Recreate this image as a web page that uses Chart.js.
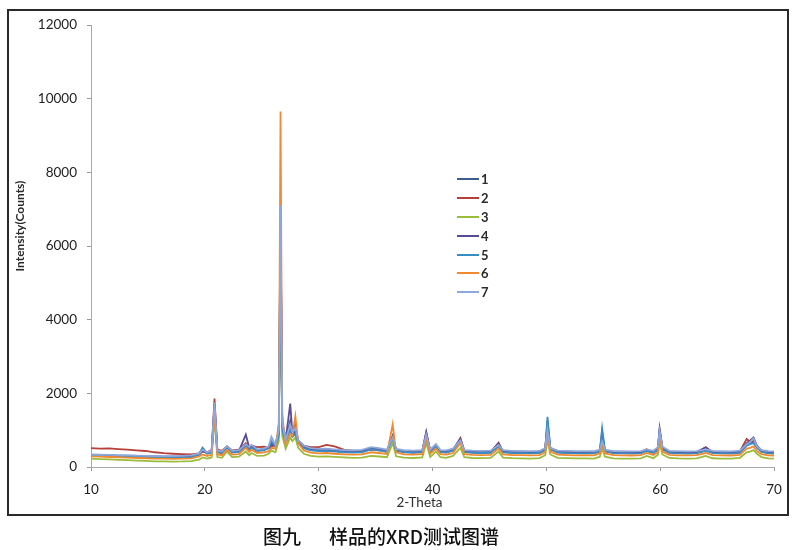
<!DOCTYPE html>
<html>
<head>
<meta charset="utf-8">
<script src="https://cdn.jsdelivr.net/npm/chart.js@4.4.1/dist/chart.umd.min.js"></script>
<style>
html,body{margin:0;padding:0;background:#fff;}
#wrap{position:relative;width:800px;height:550px;overflow:hidden;background:#fff;}
#frame{position:absolute;left:7px;top:9px;width:782px;height:507px;border:2px solid #2a2a2a;box-sizing:border-box;}
#c{position:absolute;left:0;top:0;}
.ytitle{position:absolute;left:18.5px;top:226px;transform:translate(-50%,-50%) rotate(-90deg);white-space:nowrap;font:bold 12px Lato, "Liberation Sans", sans-serif;color:#2a2a2a;}
.xtitle{position:absolute;left:419.5px;top:501.5px;transform:translate(-50%,-50%);white-space:nowrap;font:13.5px Lato, "Liberation Sans", sans-serif;color:#2e2e2e;}
#legend{position:absolute;left:457px;top:170px;}
#legend .row{height:18.8px;display:flex;align-items:center;}
#legend .ln{width:22px;height:2px;margin-right:2px;}
#legend .tx{font:bold 13px Lato, "Liberation Sans", sans-serif;color:#2a2a2a;}
.caption{position:absolute;left:263px;top:535px;transform:translateY(-50%);white-space:nowrap;font:500 19px "Noto Sans CJK SC", sans-serif;color:#111;}
</style>
</head>
<body>
<div id="wrap">
  <canvas id="c" width="800" height="550"></canvas>
  <div id="frame"></div>
  <div class="ytitle">Intensity(Counts)</div>
  <div class="xtitle">2-Theta</div>
  <div id="legend"></div>
  <div class="caption"><span>图九</span><span style="margin-left:28px">样品的XRD测试图谱</span></div>
</div>
<script>
// ---- data ----
const twoTheta = [10,10.8,11.6,12.4,13.2,14,14.8,15.6,16.4,17.2,18,18.8,19.5,19.8,20.2,20.6,20.85,21.1,21.5,21.95,22.4,23.0,23.6,23.9,24.1,24.6,25.2,25.6,25.85,26.2,26.5,26.65,26.8,27.1,27.5,27.7,27.95,28.2,28.7,29.3,30.0,30.7,31.4,32.2,33.0,33.8,34.6,35.3,36.0,36.5,36.8,37.5,38.3,39.1,39.45,39.8,40.3,40.7,41.2,41.8,42.45,42.8,43.5,44.3,45.1,45.8,46.2,47.0,47.8,48.6,49.4,49.9,50.1,50.35,51.0,51.8,52.6,53.4,54.2,54.7,54.9,55.15,55.9,56.7,57.5,58.3,58.8,59.4,59.8,59.95,60.2,60.8,61.6,62.4,63.2,64.0,64.6,65.4,66.2,67.0,67.6,67.9,68.2,68.5,68.9,69.5,70];

const seriesNames = ['1','2','3','4','5','6','7'];

const s1 = [330,322,318,310,305,298,290,286,282,280,285,295,360,520,380,420,1600,430,400,520,410,420,600,480,540,450,470,520,650,560,900,6500,1100,700,1250,850,950,680,540,470,450,460,440,420,410,420,500,470,430,800,460,420,400,420,850,440,600,430,410,470,700,430,400,395,400,580,420,395,390,385,395,480,1250,520,410,395,385,390,385,440,950,450,390,385,380,390,450,400,500,1000,520,400,385,380,390,460,395,385,380,400,600,650,700,560,430,390,380];
const s2 = [515,500,505,485,470,450,435,400,375,360,348,340,370,420,400,460,1860,470,440,560,450,470,650,520,580,540,550,520,560,600,1000,6800,1200,780,1100,900,1150,720,580,540,540,600,560,470,440,430,470,450,420,850,450,410,400,420,940,430,560,420,400,450,790,420,395,390,395,660,410,390,385,380,390,450,950,480,400,390,380,385,380,420,650,420,385,380,375,385,480,395,470,850,480,395,380,375,385,540,390,380,375,420,760,680,700,540,420,385,375];
const s3 = [230,215,205,195,185,175,165,155,150,148,150,160,200,260,230,260,1350,270,250,420,270,280,420,320,380,300,310,360,450,400,700,5900,850,500,800,700,800,520,360,300,280,290,275,260,250,255,300,285,265,650,290,255,245,260,650,270,420,265,250,300,520,265,245,240,245,420,255,240,235,230,240,320,750,340,250,240,232,235,230,280,500,280,235,230,228,235,300,240,330,650,340,245,232,228,235,300,238,230,228,250,400,420,460,360,270,235,228];
const s4 = [320,312,305,300,292,285,280,272,268,265,270,282,330,440,370,410,1700,420,390,540,420,440,880,520,590,460,480,510,620,560,950,6700,1150,720,1720,880,1000,700,560,490,470,480,460,440,430,440,510,480,445,820,470,435,420,440,950,450,590,440,425,480,760,440,420,415,420,640,430,415,410,405,415,490,1100,510,425,415,405,410,405,450,800,450,410,405,400,410,470,420,520,1050,530,420,405,400,410,530,412,405,400,420,650,720,800,580,450,410,400];
const s5 = [310,300,295,288,280,272,265,258,255,252,258,270,340,500,360,390,1550,400,370,540,395,410,560,460,520,430,450,520,700,560,850,6200,1000,660,1000,820,900,650,510,450,430,440,420,400,390,400,480,450,410,780,440,400,385,400,800,415,560,405,390,440,680,405,385,380,385,560,395,380,375,370,380,470,1360,500,390,378,370,372,368,430,1050,440,372,368,365,372,430,380,470,900,480,382,370,365,372,440,375,368,365,385,580,620,650,520,410,372,365];
const s6 = [290,280,272,265,255,245,238,230,225,222,226,236,290,340,300,330,1450,340,320,460,335,350,520,410,470,380,395,430,520,500,1200,9650,1400,620,900,850,1380,640,450,390,370,380,360,345,335,340,400,380,350,1160,400,345,335,350,750,355,500,350,335,380,650,350,330,325,330,500,340,325,320,318,325,400,850,420,335,325,318,320,316,370,600,370,320,316,312,320,380,328,410,780,420,330,318,314,320,380,322,316,312,330,500,520,560,430,350,318,312];
const s7 = [340,332,328,320,315,308,302,298,295,296,302,318,370,470,400,440,1750,450,420,570,440,460,620,540,600,480,500,560,820,600,1000,7100,1200,740,1150,950,1050,730,580,510,490,500,480,460,455,465,540,510,470,800,490,455,445,460,880,470,620,460,450,500,720,460,445,440,445,600,455,440,435,430,440,510,1000,520,445,438,430,432,428,470,700,470,432,428,425,432,480,440,540,980,550,440,430,425,432,480,435,428,425,445,620,680,780,560,460,430,425];

const seriesValues = [s1,s2,s3,s4,s5,s6,s7];
const seriesColors = ['#3C5C94','#B5403A','#9BBB3B','#5A4B96','#3A8CC4','#F08A30','#8FA8DC'];

const xTicks = {min:10, max:70, step:10};
const yTicks = {min:0, max:12000, step:2000};

// ---- chart ----
const datasets = seriesValues.map((vals, i) => ({
  label: seriesNames[i],
  data: vals.map((v, k) => ({x: twoTheta[k], y: v})),
  borderColor: seriesColors[i],
  backgroundColor: seriesColors[i],
  borderWidth: 1.8,
  pointRadius: 0,
  tension: 0,
  fill: false,
  order: seriesValues.length - 1 - i
}));

const tickFont = {family: 'Lato, "Liberation Sans", sans-serif', size: 13.5};

new Chart(document.getElementById('c'), {
  type: 'line',
  data: {datasets},
  options: {
    responsive: false,
    animation: false,
    devicePixelRatio: 1,
    layout: {padding: {top: 25, right: 26, left: 0, bottom: 0}},
    plugins: {legend: {display: false}, tooltip: {enabled: false}},
    scales: {
      x: {
        type: 'linear',
        min: xTicks.min, max: xTicks.max,
        ticks: {stepSize: xTicks.step, font: tickFont, color: '#222', padding: 11, maxRotation: 0,
                callback: v => String(v)},
        grid: {drawOnChartArea: false, drawTicks: true, tickLength: 4, color: '#999'},
        border: {display: true, dash: [3,3], color: '#aaa', width: 1},
        afterFit: s => { s.height = 83; }
      },
      y: {
        min: yTicks.min, max: yTicks.max,
        ticks: {stepSize: yTicks.step, font: tickFont, color: '#222', padding: 10,
                callback: v => String(v)},
        grid: {drawOnChartArea: false, drawTicks: true, tickLength: 4, color: '#999'},
        border: {display: true, dash: [3,3], color: '#aaa', width: 1},
        afterFit: s => { s.width = 91; }
      }
    }
  }
});

// ---- legend (HTML, from dataset definitions) ----
const leg = document.getElementById('legend');
datasets.forEach(d => {
  const row = document.createElement('div'); row.className = 'row';
  const ln = document.createElement('div'); ln.className = 'ln'; ln.style.background = d.borderColor;
  const tx = document.createElement('span'); tx.className = 'tx'; tx.textContent = d.label;
  row.appendChild(ln); row.appendChild(tx); leg.appendChild(row);
});
</script>
</body>
</html>
